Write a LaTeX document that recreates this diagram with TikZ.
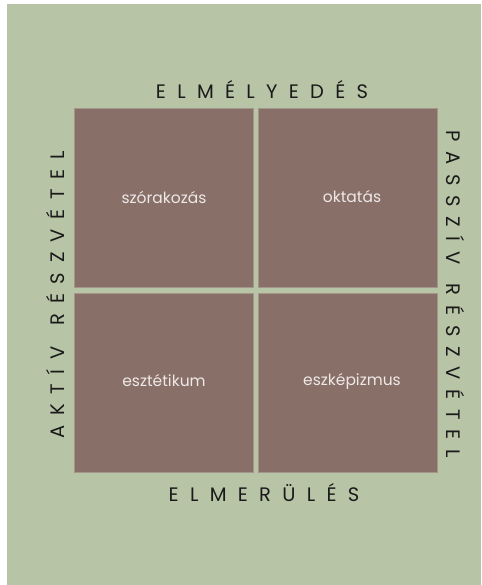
\documentclass[tikz,border=0pt]{standalone}
\usepackage{fontspec}
\setmainfont{Poppins}
\definecolor{bggreen}{HTML}{B7C4A6}
\definecolor{boxbrown}{HTML}{886F67}
\definecolor{boxedge}{HTML}{A4968A}
\definecolor{lbl}{HTML}{1A1A1A}
\definecolor{inner}{HTML}{EEE9E8}
\tikzset{
  axis/.style={text=lbl, font=\fontsize{19.5}{22}\selectfont\addfontfeature{LetterSpace=58}, inner sep=0pt, anchor=center},
  sideaxis/.style={text=lbl, font=\fontsize{19.5}{22}\selectfont\addfontfeature{LetterSpace=50}, inner sep=0pt, anchor=center},
  quad/.style={fill=boxbrown, draw=boxedge, line width=0.6pt},
  qtext/.style={text=inner, font=\fontsize{15.5}{18}\selectfont, inner sep=0pt, anchor=center},
}
\begin{document}
\begin{tikzpicture}[x=1pt,y=-1pt]
\useasboundingbox (0,0) rectangle (481,585);
\fill[white] (0,0) rectangle (481,585);
\fill[bggreen] (7,4) rectangle (481,585);
% quadrants
\path[quad] (74,108) rectangle (253,287);
\path[quad] (258,108) rectangle (437,287);
\path[quad] (74,293) rectangle (253,472);
\path[quad] (258,293) rectangle (437,472);
\node[qtext] (q1) at (164,197) {szórakozás};
\node[qtext] (q2) at (352,197) {oktatás};
\node[qtext] (q3) at (164,381) {esztétikum};
\node[qtext] (q4) at (352,381) {eszképizmus};
% axis labels
\node[axis] (top) at (262,90) {ELMÉLYEDÉS};
\node[axis] (bottom) at (264,493) {ELMERÜLÉS};
\node[sideaxis, rotate=90] (left) at (56,295) {AKTÍV\hspace{6pt} RÉSZVÉTEL};
\node[sideaxis, rotate=-90] (right) at (455,294) {PASSZÍV\hspace{4pt} RÉSZVÉTEL};
\end{tikzpicture}
\end{document}
